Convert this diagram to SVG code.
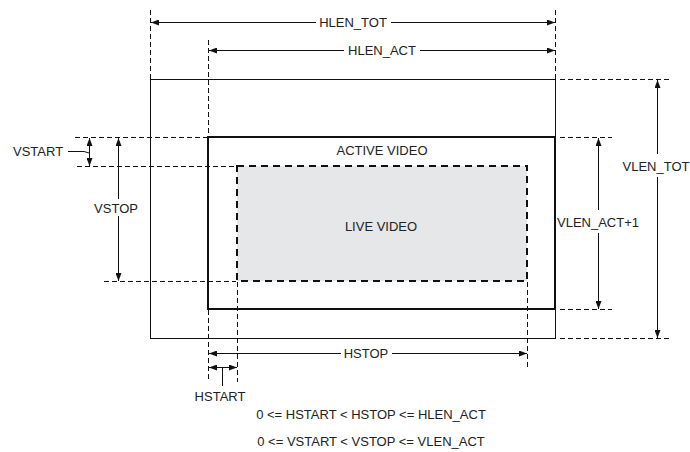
<svg xmlns="http://www.w3.org/2000/svg" width="690" height="452" viewBox="0 0 690 452">
<defs>
<marker id="ah" viewBox="0 0 8 6" refX="8" refY="3" markerWidth="8" markerHeight="6" markerUnits="userSpaceOnUse" orient="auto-start-reverse">
<path d="M0,0 L8,3 L0,6 Z" fill="#111"/>
</marker>
</defs>
<style>
text{font-family:"Liberation Sans",Arial,sans-serif;font-size:13px;fill:#222}
.mid{text-anchor:middle}
.dash{stroke:#111;stroke-width:1;stroke-dasharray:5,3;fill:none}
.dim{stroke:#111;stroke-width:1;fill:none}
</style>
<rect width="690" height="452" fill="#fff"/>
<g id="outer-frame"><rect x="150.5" y="79.5" width="405" height="259" fill="none" stroke="#111" stroke-width="1"/></g>
<g id="live-video"><rect x="237" y="166" width="290" height="115" fill="#e6e7e8" stroke="#111" stroke-width="2" stroke-dasharray="7,5"/>
<text class="mid" x="381" y="231">LIVE VIDEO</text></g>
<g id="active-video"><rect x="208" y="137" width="347" height="172" fill="none" stroke="#111" stroke-width="2"/>
<text class="mid" x="382" y="155">ACTIVE VIDEO</text></g>
<g id="connectors">
<path class="dash" d="M150.5,10V79 M555.5,10V79 M208.5,40V136 M208.5,310V382 M237.5,282V382 M527.5,282V367"/>
<path class="dash" d="M560,79.5H670 M560,137.5H612 M560,309.5H612 M560,338.5H670"/>
<path class="dash" d="M75,137.5H207 M77,166.5H236 M104,281.5H236"/>
<!-- HLEN_TOT -->
<line class="dim" x1="151" y1="22.5" x2="316" y2="22.5" marker-start="url(#ah)"/>
<line class="dim" x1="391" y1="22.5" x2="555" y2="22.5" marker-end="url(#ah)"/>
<!-- HLEN_ACT -->
<line class="dim" x1="209" y1="50.5" x2="344" y2="50.5" marker-start="url(#ah)"/>
<line class="dim" x1="420" y1="50.5" x2="555" y2="50.5" marker-end="url(#ah)"/>
<!-- HSTOP -->
<line class="dim" x1="209" y1="353.5" x2="341" y2="353.5" marker-start="url(#ah)"/>
<line class="dim" x1="392" y1="353.5" x2="527" y2="353.5" marker-end="url(#ah)"/>
<!-- HSTART -->
<line class="dim" x1="209" y1="367.5" x2="237" y2="367.5" marker-start="url(#ah)" marker-end="url(#ah)"/>
<line class="dim" x1="222.5" y1="367" x2="222.5" y2="386"/>
<!-- VSTART -->
<line class="dim" x1="89.5" y1="138" x2="89.5" y2="166" marker-start="url(#ah)" marker-end="url(#ah)"/>
<path class="dim" d="M68,151.5H84L89,153"/>
<!-- VSTOP -->
<line class="dim" x1="118.5" y1="138" x2="118.5" y2="199" marker-start="url(#ah)"/>
<line class="dim" x1="118.5" y1="216" x2="118.5" y2="281" marker-end="url(#ah)"/>
<!-- VLEN_ACT+1 -->
<line class="dim" x1="598.5" y1="138" x2="598.5" y2="210" marker-start="url(#ah)"/>
<line class="dim" x1="598.5" y1="233" x2="598.5" y2="309" marker-end="url(#ah)"/>
<!-- VLEN_TOT -->
<line class="dim" x1="657.5" y1="80" x2="657.5" y2="154" marker-start="url(#ah)"/>
<line class="dim" x1="657.5" y1="177" x2="657.5" y2="338" marker-end="url(#ah)"/>
</g>
<g id="labels">
<text class="mid" x="353" y="27">HLEN_TOT</text>
<text class="mid" x="382" y="55">HLEN_ACT</text>
<text class="mid" x="366" y="358">HSTOP</text>
<text class="mid" x="220" y="401">HSTART</text>
<text x="13" y="156">VSTART</text>
<text class="mid" x="116" y="213">VSTOP</text>
<text class="mid" x="598" y="227">VLEN_ACT+1</text>
<text class="mid" x="656" y="171">VLEN_TOT</text>
<text class="mid" x="371" y="419">0 &lt;= HSTART &lt; HSTOP &lt;= HLEN_ACT</text>
<text class="mid" x="371" y="446">0 &lt;= VSTART &lt; VSTOP &lt;= VLEN_ACT</text>
</g>
</svg>
